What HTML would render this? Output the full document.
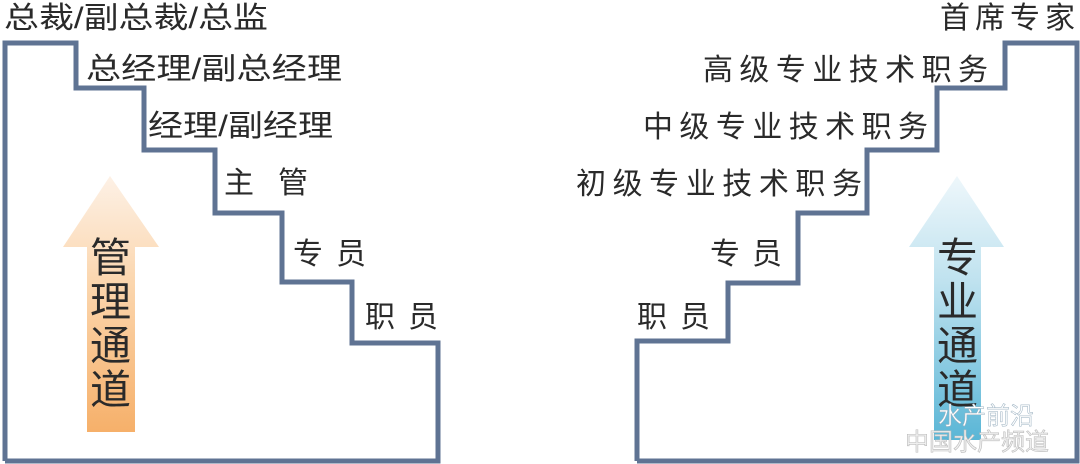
<!DOCTYPE html>
<html><head><meta charset="utf-8"><style>
html,body{margin:0;padding:0;background:#fff;}
svg{display:block;}
text{font-family:"Liberation Sans","Noto Sans CJK SC",sans-serif;fill:#2a2a2a;}
</style></head><body>
<svg width="1080" height="464" viewBox="0 0 1080 464" xmlns="http://www.w3.org/2000/svg">
<defs>
<linearGradient id="og" x1="0" y1="0" x2="0" y2="1">
<stop offset="0" stop-color="#fdf1e6"/><stop offset="0.4" stop-color="#fbd7b0"/><stop offset="1" stop-color="#f6b06a"/>
</linearGradient>
<linearGradient id="bg" x1="0" y1="0" x2="0" y2="1">
<stop offset="0" stop-color="#eef7fb"/><stop offset="0.4" stop-color="#bfe2ef"/><stop offset="1" stop-color="#5ab6d6"/>
</linearGradient>
</defs>
<polyline fill="none" stroke="#5f7393" stroke-width="5" stroke-linejoin="miter"
 points="5,461 5,43 76,43 76,88 144,88 144,150 215,150 215,213 282,213 282,282 352,282 352,343 438,343 438,461 5,461"/>
<polyline fill="none" stroke="#5f7393" stroke-width="5" stroke-linejoin="miter"
 points="637,461 637,341 728,341 728,283 798,283 798,213 867,213 867,150 937,150 937,88 1005,88 1005,43 1077,43 1077,461 637,461"/>
<path d="M110,176 L159,247 L135,247 L135,432 L87,432 L87,247 L63,247 Z" fill="url(#og)"/>
<path d="M957,176 L1004,247 L981,247 L981,440 L934,440 L934,247 L909,247 Z" fill="url(#bg)"/>
<g font-size="30">
<text x="4" y="28" textLength="264" lengthAdjust="spacingAndGlyphs">总裁/副总裁/总监</text>
<text x="86" y="79" textLength="256" lengthAdjust="spacingAndGlyphs">总经理/副总经理</text>
<text x="148" y="136" textLength="185" lengthAdjust="spacingAndGlyphs">经理/副经理</text>
<text x="224" y="193" textLength="84" lengthAdjust="spacing">主 管</text>
<text x="293" y="264" textLength="73" lengthAdjust="spacing">专 员</text>
<text x="365" y="327" textLength="73" lengthAdjust="spacing">职 员</text>
<text x="940" y="28" textLength="135" lengthAdjust="spacing">首席专家</text>
<text x="703" y="80" textLength="285" lengthAdjust="spacing">高级专业技术职务</text>
<text x="643" y="137" textLength="285" lengthAdjust="spacing">中级专业技术职务</text>
<text x="576" y="194" textLength="286" lengthAdjust="spacing">初级专业技术职务</text>
<text x="710" y="264" textLength="72" lengthAdjust="spacing">专 员</text>
<text x="637" y="327" textLength="73" lengthAdjust="spacing">职 员</text>
</g>
<g font-size="41">
<text x="90" y="272">管</text><text x="90" y="316">理</text><text x="90" y="360">通</text><text x="90" y="404">道</text>
<text x="937" y="272">专</text><text x="937" y="316">业</text><text x="937" y="360">通</text><text x="937" y="404">道</text>
</g>
<text x="938" y="424" font-size="24" style="fill:#ffffff;stroke:#9ab0c0;stroke-width:0.5">水产前沿</text>
<text x="905" y="450" font-size="24" style="fill:#f0f0f0;stroke:#bbb;stroke-width:0.6">中国水产频道</text>
</svg>
</body></html>
